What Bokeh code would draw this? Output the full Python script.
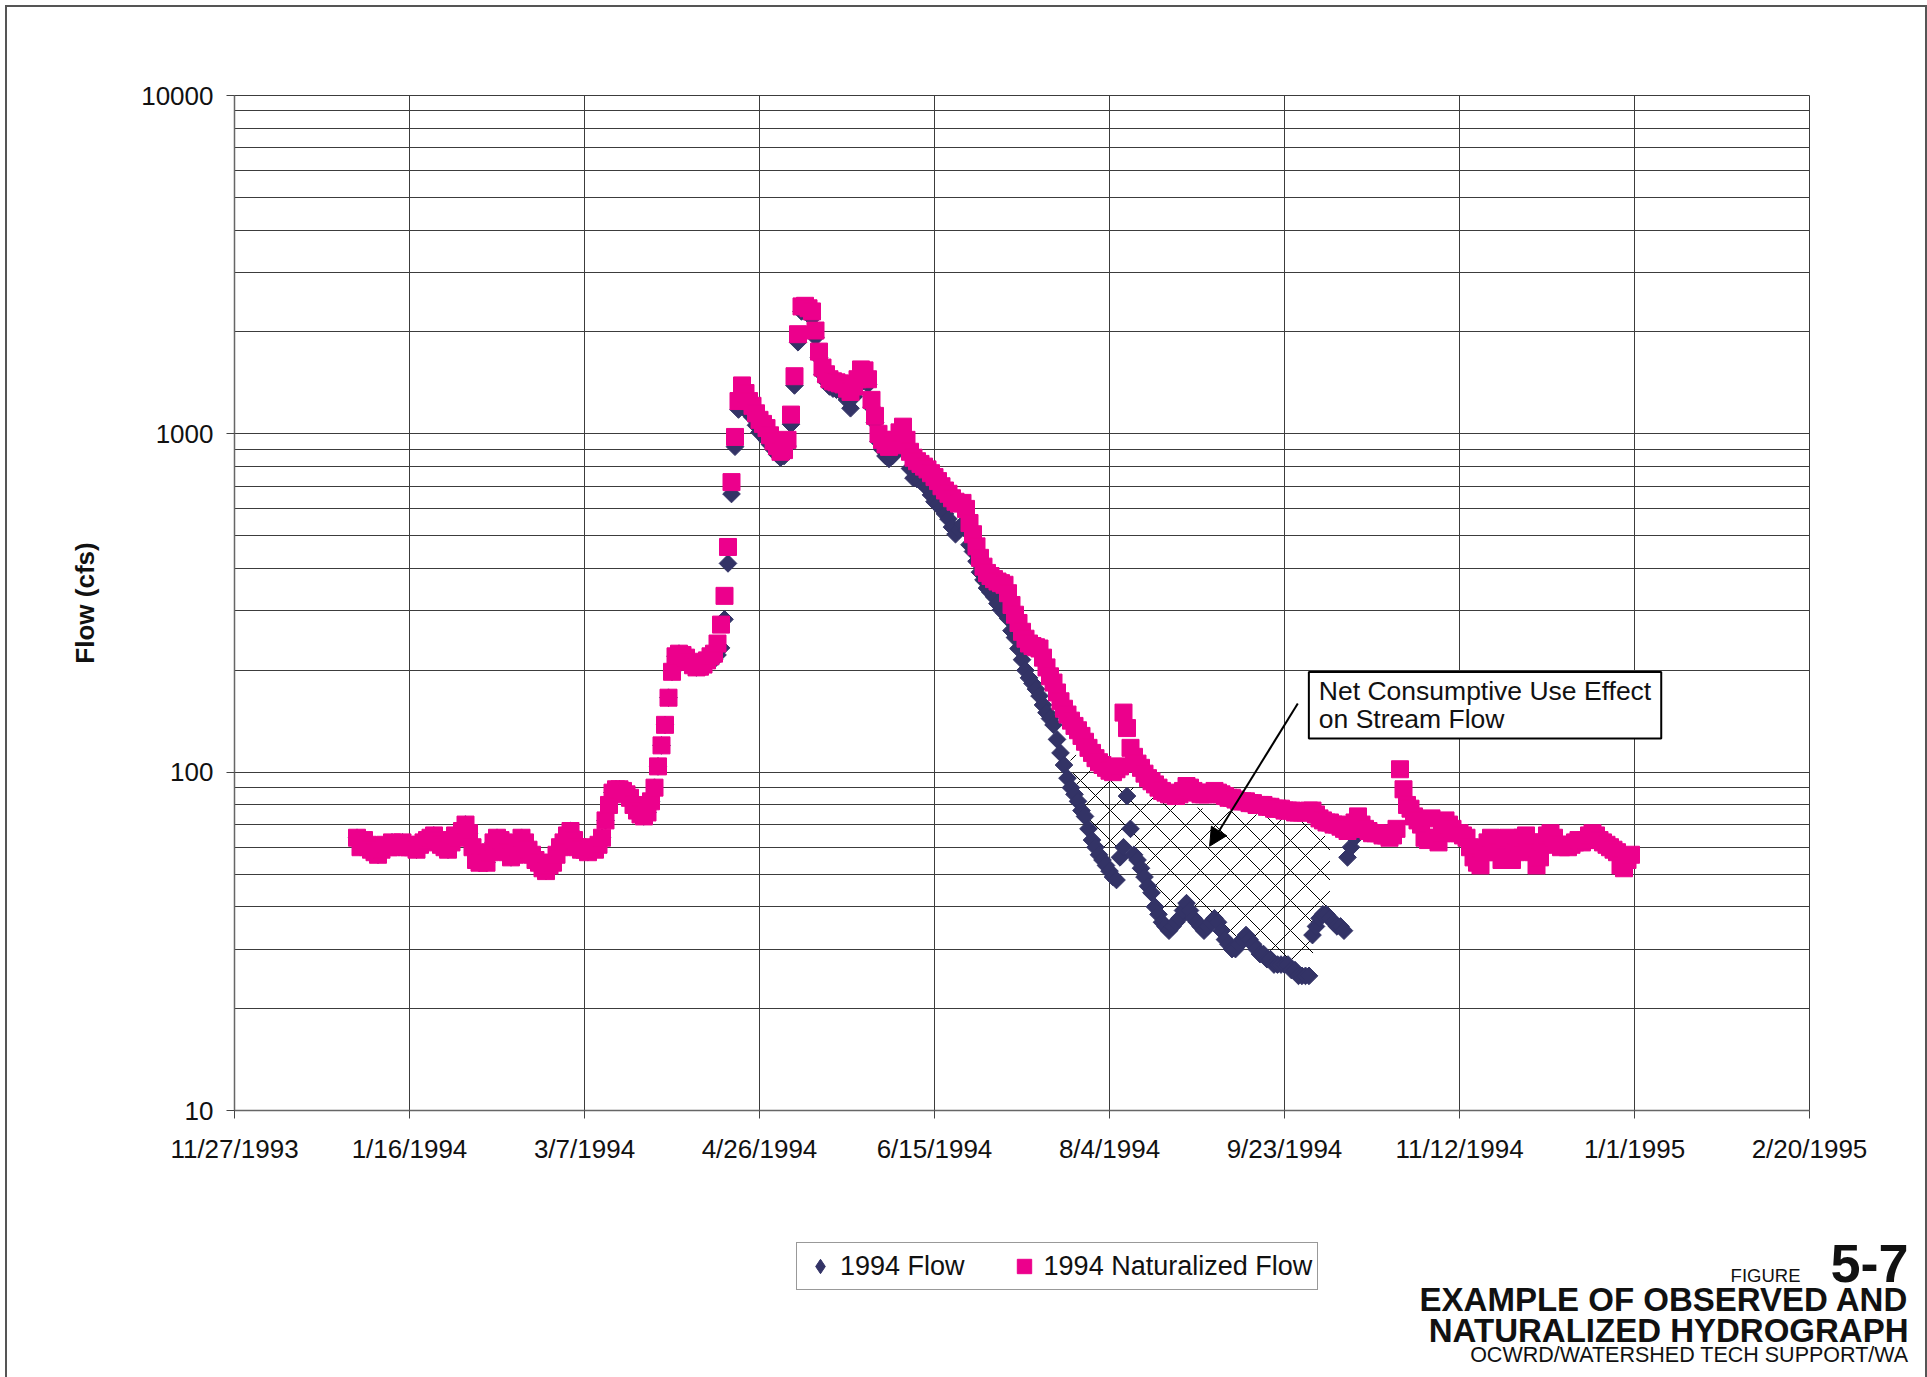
import numpy as np
import pandas as pd
from bokeh.plotting import figure
from bokeh.layouts import column
from bokeh.models import FixedTicker, Label, Legend, LegendItem, Arrow, NormalHead, Range1d
from bokeh.embed import file_html
from bokeh.resources import INLINE

FONT = "Liberation Sans"

# ---------------- data ----------------
axis_start = "11/27/1993"
x_tick_labels = ["11/27/1993", "1/16/1994", "3/7/1994", "4/26/1994", "6/15/1994",
                 "8/4/1994", "9/23/1994", "11/12/1994", "1/1/1995", "2/20/1995"]
y_tick_values = [10, 100, 1000, 10000]
y_tick_labels = ["10", "100", "1000", "10000"]

series_start = "1/1/1994"

# 1994 Naturalized Flow (cfs), daily from Jan 1
naturalized_flow = [
    # Jan
    64, 60, 63, 61, 59, 58, 57, 59, 61, 60, 62, 61, 60, 62, 61, 60, 60, 59, 61, 62,
    63, 64, 65, 63, 61, 60, 59, 62, 65, 64, 67,
    # Feb
    70, 66, 60, 55, 54, 55, 54, 58, 62, 64, 63, 62, 58, 56, 57, 60, 64, 62, 59, 57,
    55, 54, 52, 51, 53, 54, 57, 60,
    # Mar
    62, 65, 67, 63, 60, 59, 59, 58, 60, 59, 61, 64, 72, 80, 87, 89, 89, 88, 86, 84,
    80, 77, 75, 74, 76, 82, 90, 104, 120, 138, 166,
    # Apr
    198, 220, 224, 222, 218, 212, 207, 204, 205, 208, 214, 220, 224, 240, 273, 332,
    463, 720, 979, 1250, 1390, 1320, 1250, 1210, 1150, 1100, 1070, 1040, 990, 950,
    # May
    920, 885, 895, 960, 1140, 1480, 1970, 2380, 2390, 2350, 2300, 2020, 1750, 1570,
    1500, 1450, 1430, 1420, 1410, 1400, 1360, 1330, 1380, 1450, 1550, 1540, 1450,
    1260, 1130, 1000, 960,
    # Jun
    930, 915, 925, 960, 1010, 1050, 960, 885, 850, 830, 815, 800, 785, 765, 745, 725,
    700, 680, 665, 645, 630, 622, 625, 600, 545, 505, 465, 430, 405, 388,
    # Jul
    380, 372, 366, 362, 358, 338, 312, 292, 276, 260, 248, 240, 236, 234, 232, 218,
    204, 192, 184, 172, 162, 154, 148, 142, 137, 133, 128, 123, 118, 114, 110,
    # Aug
    107, 105, 103, 101, 100, 102, 104, 150, 135, 118, 111, 106, 103, 99, 96, 94, 92,
    90, 88, 87, 86, 86, 85, 86, 88, 91, 90, 88, 87, 86, 86,
    # Sep
    86, 87, 88, 87, 86, 85, 84, 84, 83, 82, 82, 82, 81, 81, 80, 80, 80, 79, 79, 78,
    78, 78, 77, 77, 77, 76, 76, 76, 76, 77,
    # Oct
    77, 75, 73, 72, 71, 71, 70, 70, 69, 68, 67, 68, 71, 74, 70, 68, 67, 66, 66, 66,
    65, 65, 64, 65, 68, 102, 89, 80, 78, 74, 72,
    # Nov
    70, 64, 63, 73, 64, 62, 66, 72, 70, 68, 66, 66, 65, 64, 60, 56, 54, 53, 58, 62,
    64, 62, 58, 55, 63, 64, 55, 58, 62, 64,
    # Dec
    65, 62, 58, 53, 56, 62, 65, 66, 64, 61, 60, 61, 60, 61, 62, 63, 62, 63, 65, 66,
    65, 63, 62, 61, 60, 59, 58, 53, 52, 55, 57,
]

# 1994 Flow (observed, cfs), daily from Jan 1
observed_flow = [
    # Jan
    64, 60, 63, 61, 59, 58, 57, 59, 61, 60, 62, 61, 60, 62, 61, 60, 60, 59, 61, 62,
    63, 64, 65, 63, 61, 60, 59, 62, 65, 64, 67,
    # Feb
    70, 66, 60, 55, 54, 55, 54, 58, 62, 64, 63, 62, 58, 56, 57, 60, 64, 62, 59, 57,
    55, 54, 52, 51, 53, 54, 57, 60,
    # Mar
    62, 65, 67, 63, 60, 59, 59, 58, 60, 59, 61, 64, 72, 80, 87, 89, 89, 88, 86, 84,
    80, 77, 75, 74, 76, 82, 90, 104, 120, 138, 166,
    # Apr
    198, 220, 224, 222, 218, 212, 207, 204, 205, 208, 214, 220, 215, 222, 233, 283,
    414, 664, 916, 1180, 1300, 1230, 1150, 1120, 1060, 1010, 990, 960, 930, 900,
    # May
    870, 850, 860, 920, 1068, 1390, 1865, 2300, 2300, 2260, 2200, 1930, 1680, 1500,
    1430, 1380, 1360, 1350, 1340, 1320, 1260, 1190, 1290, 1380, 1470, 1460, 1400,
    1200, 1080, 950, 900,
    # Jun
    860, 843, 860, 900, 950, 990, 880, 790, 740, 735, 725, 710, 690, 660, 630, 620,
    600, 580, 560, 530, 505, 520, 540, 520, 470, 449, 420, 390, 370, 350,
    # Jul
    340, 330, 315, 302, 295, 285, 262, 250, 232, 215, 200, 190, 183, 176, 168, 158,
    150, 144, 138, 125, 114, 105, 96, 90, 86, 82, 77, 74, 68, 63, 60,
    # Aug
    57, 55, 53, 51, 49, 48, 56, 60, 85, 68, 57, 55, 52, 49, 46, 44, 40, 38, 36, 35,
    34, 35, 36, 37, 39, 41, 39, 37, 36, 35, 34,
    # Sep
    35, 36, 37, 36, 34, 32, 31, 30, 30, 31, 32, 33, 32, 31, 30, 29, 29, 28, 28, 27,
    27, 27, 27, 27, 26, 26, 25, 25, 25, 25,
    # Oct (to the 13th)
    33, 35, 37, 38, 38, 37, 36, 35, 35, 34, 56, 60, 64,
]

# cross-hatched "net consumptive use" area (day of 1994, bounds in cfs)
hatch_day_of_year = [203, 206, 209, 212, 215, 218, 221, 224, 227, 230, 233, 236, 239,
                     242, 245, 248, 251, 254, 257, 260, 263, 266, 269, 272, 275, 278]
hatch_upper = [120, 111, 106, 101, 97, 94, 91, 88, 85, 83, 81, 80, 79,
               78, 77, 77, 76, 76, 75, 75, 74, 73, 72, 70, 67, 63]
hatch_lower = [120, 84, 69, 57, 51, 55, 66, 52, 44, 36, 35, 38, 37,
               34, 37, 32, 30, 32, 30, 28, 27, 27, 25, 25, 37, 42]

legend_labels = ["1994 Flow", "1994 Naturalized Flow"]
annotation_text = "Net Consumptive Use Effect\non Stream Flow"
figure_number = "5-7"
figure_word = "FIGURE"
figure_title_lines = ["EXAMPLE OF OBSERVED AND", "NATURALIZED HYDROGRAPH"]
figure_credit = "OCWRD/WATERSHED TECH SUPPORT/WA"

# ---------------- derived positions ----------------
origin = pd.to_datetime(axis_start)
one_day = pd.Timedelta(days=1)
x_ticks = [float((pd.to_datetime(t) - origin) / one_day) for t in x_tick_labels]
start = pd.to_datetime(series_start)
nat_x = ((pd.date_range(start, periods=len(naturalized_flow), freq="D") - origin) / one_day).to_numpy()
obs_x = ((pd.date_range(start, periods=len(observed_flow), freq="D") - origin) / one_day).to_numpy()
hatch_x = (((start + pd.to_timedelta(hatch_day_of_year, unit="D")) - origin) / one_day).to_numpy()

y_minor = [m * 10 ** k for k in (1, 2, 3) for m in range(2, 10)]

NAVY = "#333366"
PINK = "#EC008C"
GRID = "#3c3c3c"
W = 1927
MAIN_H = 1196
FOOT_H = 181
FOOT_SHIFT = 40   # extra footer height above the caption block

# ---------------- main chart ----------------
p = figure(width=W, height=MAIN_H, y_axis_type="log",
           x_range=Range1d(x_ticks[0], x_ticks[-1]), y_range=Range1d(10, 10000),
           output_backend="svg", toolbar_location=None,
           min_border_left=234, min_border_right=118, min_border_top=95, min_border_bottom=86)
p.background_fill_color = "white"
p.border_fill_alpha = 0
p.outline_line_color = GRID
p.outline_line_width = 1
p.frame_align = False

p.xaxis.ticker = FixedTicker(ticks=x_ticks)
p.xaxis.major_label_overrides = {t: l for t, l in zip(x_ticks, x_tick_labels)}
p.yaxis.ticker = FixedTicker(ticks=y_tick_values, minor_ticks=y_minor)
p.yaxis.major_label_overrides = {t: l for t, l in zip(y_tick_values, y_tick_labels)}
for ax in (p.xaxis, p.yaxis):
    ax.major_tick_out = 8
    ax.major_tick_in = 0
    ax.minor_tick_out = 0
    ax.minor_tick_in = 0
    ax.major_tick_line_color = "#444"
    ax.axis_line_color = "#666"
    ax.axis_line_width = 1.5
    ax.major_label_text_font = FONT
    ax.major_label_text_font_size = "26px"
    ax.major_label_text_color = "#111"
p.xaxis.major_label_standoff = 15
p.yaxis.major_label_standoff = 13
p.yaxis.axis_label = "Flow (cfs)"
p.yaxis.axis_label_text_font = FONT
p.yaxis.axis_label_text_font_size = "26px"
p.yaxis.axis_label_text_font_style = "bold"
p.yaxis.axis_label_text_color = "#111"
p.yaxis.axis_label_standoff = 38

p.xgrid.grid_line_color = GRID
p.xgrid.grid_line_width = 1
p.ygrid.grid_line_color = GRID
p.ygrid.grid_line_width = 1
p.ygrid.minor_grid_line_color = GRID
p.ygrid.minor_grid_line_width = 1

p.varea(x=hatch_x, y1=hatch_lower, y2=hatch_upper, fill_alpha=0,
        hatch_pattern="x", hatch_color="black", hatch_scale=30, hatch_weight=1)

p.scatter(obs_x, observed_flow, marker="square", angle=np.pi / 4, size=12.5,
          fill_color=NAVY, line_color=NAVY)
p.scatter(nat_x, naturalized_flow, marker="square", size=17,
          fill_color=PINK, line_color=PINK)

p.add_layout(Arrow(x_start=303.8, y_start=159.6, x_end=278.6, y_end=60.4,
                   line_color="black", line_width=2,
                   end=NormalHead(size=18, fill_color="black", line_color="black")))
p.add_layout(Label(x=306.96, y=197.8, text=annotation_text,
                   text_align="left", text_baseline="top",
                   padding=dict(left=10, right=10, top=4, bottom=4),
                   text_font=FONT, text_font_size="26.5px", text_color="#111",
                   text_line_height=0.95,
                   border_line_color="black", border_line_width=2,
                   background_fill_color="white", background_fill_alpha=1))

# ---------------- footer: legend + figure caption ----------------
foot = figure(width=W, height=FOOT_H, x_range=Range1d(0, W), y_range=Range1d(FOOT_H, 0),
              x_axis_type=None, y_axis_type=None, output_backend="svg",
              toolbar_location=None, min_border=0, title=None)
foot.outline_line_color = None
foot.background_fill_alpha = 0
foot.border_fill_alpha = 0
foot.frame_align = False

leg_obs = foot.scatter([np.nan], [np.nan], marker="diamond", fill_color=NAVY, line_color=NAVY)
leg_nat = foot.scatter([np.nan], [np.nan], marker="square", fill_color=PINK, line_color=PINK)
legend = Legend(items=[LegendItem(label=legend_labels[0], renderers=[leg_obs]),
                       LegendItem(label=legend_labels[1], renderers=[leg_nat])],
                orientation="horizontal", location=(796, 87),
                glyph_height=36, glyph_width=36, padding=5, spacing=41, label_standoff=2,
                label_text_font=FONT, label_text_font_size="27px", label_text_color="#111",
                border_line_color="#333", border_line_width=1.5,
                background_fill_color="white", background_fill_alpha=1, margin=0)
foot.add_layout(legend)

# Labels here are anchored at the vertical centre of the text box
def cap(text, x, baseline, size_px, bold=False):
    foot.add_layout(Label(x=x, y=FOOT_SHIFT + baseline - 0.3465 * size_px, text=text,
                          text_align="right", text_baseline="alphabetic",
                          text_font=FONT, text_font_size=f"{size_px}px", text_color="#111",
                          text_font_style="bold" if bold else "normal"))

cap(figure_number, 1908, 45.5, 54, True)
cap(figure_word, 1800, 45.5, 18.5)
cap(figure_title_lines[0], 1908, 74.3, 33, True)
cap(figure_title_lines[1], 1908, 105, 33, True)
cap(figure_credit, 1908, 125.8, 21.5)

layout = column(p, foot, spacing=0)
layout.styles = {"box-shadow": "inset 5px 5px 0 0 white, inset 7px 7px 0 0 #555, inset -2px 0 0 0 #555"}

open("out.html", "w").write(file_html(layout, INLINE))
